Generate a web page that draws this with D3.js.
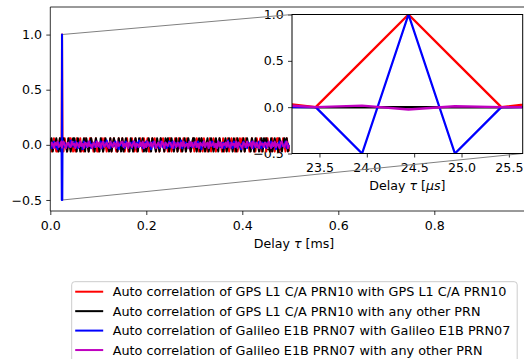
<!DOCTYPE html>
<html>
<head>
<meta charset="utf-8">
<script src="https://cdn.jsdelivr.net/npm/d3@7"></script>
<style>
  body { margin: 0; background: #fff; }
  svg { display: block; }
  text { font-family: "DejaVu Sans", sans-serif; fill: #000; }
</style>
</head>
<body>
<svg id="chart" width="524" height="359"></svg>
<script>
// ---- Correlation samples over the first half of the code period (delay in ms, step below) ----
const noiseStepMs = 0.0025;

// GPS L1 C/A PRN10 off-peak autocorrelation (three-valued)
const gpsAutoNoise = [
  0.06,-0.06,0,0.06,0,-0.06,-0.06,0,0.06,0,0,-0.06,0.06,0,-0.06,0,0.06,0.06,0,-0.06,
  0,-0.06,0.06,0,0,0.06,-0.06,0,-0.06,0.06,0,0,-0.06,0.06,0.06,0,-0.06,0,0.06,-0.06,
  -0.06,0,0,0.06,-0.06,0.06,0,-0.06,0,0,0.06,-0.06,0,0.06,0,-0.06,-0.06,0.06,0,0,
  0.06,0,-0.06,0,0.06,-0.06,0,0,0.06,0,-0.06,0.06,-0.06,0,0,0.06,0,-0.06,0.06,0,
  0,0.06,-0.06,-0.06,0,0.06,0,0.06,-0.06,0,0,-0.06,0.06,0,0.06,-0.06,0,0,-0.06,0.06,
  0.06,-0.06,0,0,0.06,0,-0.06,0.06,0,-0.06,0,0.06,0,-0.06,0.06,0,0,-0.06,0,0.06,
  -0.06,0,0.06,0,-0.06,0,0.06,-0.06,0.06,0,0,-0.06,0,0.06,-0.06,0,0.06,0,-0.06,0,
  0,0.06,0,-0.06,0.06,-0.06,0,0,0.06,-0.06,0,0.06,0,0,-0.06,0.06,-0.06,0,0.06,0,
  0.06,0,-0.06,0.06,0,0,-0.06,0,0.06,0,-0.06,-0.06,0.06,0,0,0.06,-0.06,0,0,0.06,
  -0.06,0.06,0,0,-0.06,0.06,0,-0.06,0,0.06,0.06,-0.06,0,0,0.06,0,-0.06,0.06,0,-0.06
];

// GPS L1 C/A PRN10 against other PRNs
const gpsCrossNoise = [
  0,0.06,-0.06,0,0,0.06,0,-0.06,0.06,-0.06,0,0.06,0,0,-0.06,0.06,0,-0.06,0,0.06,
  0.06,0,-0.06,0.06,0,-0.06,0,0,0.06,-0.06,0.06,0,-0.06,0,0.06,0,0,-0.06,0.06,0,
  0,-0.06,0.06,0,-0.06,0,0.06,0,0,-0.06,0.06,-0.06,0,0.06,0,0,-0.06,0.06,0,-0.06,
  0.06,-0.06,0,0.06,0,0,-0.06,0.06,0,-0.06,0,0.06,0,-0.06,0.06,0,0,0.06,-0.06,0,
  -0.06,0,0.06,0,-0.06,0.06,0,0,-0.06,0.06,0,-0.06,0.06,0,0,-0.06,0.06,0,0.06,-0.06,
  0,0.06,0,-0.06,0,0.06,-0.06,0,0.06,0,-0.06,0,0.06,-0.06,0,0.06,0,-0.06,0,0.06,
  0.06,0,-0.06,0,0.06,-0.06,0.06,0,0,-0.06,0,0.06,-0.06,0,0.06,0,-0.06,0,0.06,0,
  -0.06,0.06,0,0,-0.06,0,0.06,-0.06,0,0.06,0,0,-0.06,0.06,0,-0.06,0.06,0,0,-0.06,
  0,0.06,-0.06,0,0.06,0,0,-0.06,0.06,0,-0.06,0.06,0,0,-0.06,0,0.06,-0.06,0.06,0,
  0.06,0,0,-0.06,0.06,-0.06,0,0.06,0,0,-0.06,0.06,0,-0.06,0,0.06,0,0.06,-0.06,0
];

// Galileo E1B PRN07 off-peak autocorrelation
const galAutoNoise = [
  0.02,-0.03,0.01,0.03,-0.02,0,-0.04,0.02,0.01,-0.01,0.03,-0.02,0.02,-0.03,0,0.01,-0.02,0.04,-0.01,0.02,
  -0.02,0.03,0,-0.03,0.02,-0.01,0.01,-0.04,0.03,0,-0.02,0.02,-0.01,0.03,-0.03,0.01,0,-0.02,0.03,-0.01,
  0.01,-0.02,0.03,-0.03,0,0.02,-0.01,0.04,-0.02,0.01,-0.03,0.02,0,-0.01,0.03,-0.02,0.01,-0.04,0.02,0,
  -0.01,0.02,-0.03,0.03,0.01,-0.02,0,0.02,-0.03,0.03,-0.01,0,0.02,-0.02,0.04,-0.01,0.01,-0.03,0.02,-0.02,
  0.03,-0.01,0,0.02,-0.04,0.01,0.03,-0.02,0,-0.01,0.02,-0.03,0.03,0,-0.02,0.01,0.02,-0.03,-0.01,0.03,
  -0.02,0.01,0.03,-0.03,0.02,0,-0.01,0.02,-0.02,0.04,-0.03,0.01,0,0.02,-0.01,-0.03,0.03,0,-0.02,0.01,
  0.02,-0.02,0,0.03,-0.01,0.01,-0.04,0.02,0.03,-0.02,0,0.01,-0.03,0.02,-0.01,0.03,-0.02,0,0.01,-0.03,
  0.03,0,-0.02,0.01,0.02,-0.03,0.01,-0.01,0.04,-0.02,0.02,0,-0.03,0.03,-0.01,0.01,-0.02,0.02,0,-0.04,
  0.01,0.03,-0.02,0,-0.03,0.02,0.01,-0.01,0.03,-0.03,0,0.02,-0.02,0.01,0.03,-0.01,-0.03,0.02,0,0.02,
  -0.03,0.02,0,-0.01,0.03,-0.02,0.01,0.02,-0.04,0.01,0,0.03,-0.02,0.02,-0.01,0,0.03,-0.03,0.01,-0.02
];

// Galileo E1B PRN07 against other PRNs
const galCrossNoise = [
  -0.02,0.02,0.01,-0.03,0.02,0,0.03,-0.02,-0.01,0.02,-0.02,0.03,0,-0.03,0.01,0.02,-0.01,-0.02,0.03,0,
  0.01,-0.03,0.02,0,-0.02,0.03,-0.01,0.01,-0.03,0.02,0.01,-0.02,0.03,-0.01,0,-0.03,0.02,0.01,-0.02,0.03,
  -0.01,0.02,-0.03,0.01,0.03,-0.02,0,0.02,-0.01,-0.03,0.03,0,-0.02,0.02,0.01,-0.03,0.03,-0.01,0,0.02,
  0.03,-0.02,0.01,-0.01,0.02,-0.03,0.02,0,-0.02,0.01,0.03,-0.03,0.01,0,-0.02,0.02,-0.01,0.03,-0.03,0.01,
  -0.02,0.03,0,-0.01,0.02,-0.02,0.01,0.03,-0.03,0,0.02,-0.01,-0.02,0.03,0.01,-0.03,0.02,0,-0.01,0.02,
  0.02,-0.01,-0.03,0.03,0,-0.02,0.02,0.01,-0.03,0.02,-0.01,0.03,-0.02,0,0.01,-0.03,0.03,-0.01,0.02,-0.02,
  0,0.03,-0.02,0.01,-0.03,0.02,0,-0.01,0.03,-0.02,0.01,0.02,-0.03,0.03,-0.01,0,0.02,-0.02,0.01,-0.03,
  0.03,-0.01,0.02,-0.03,0.01,0,0.02,-0.02,0.03,-0.01,-0.03,0.02,0,0.01,-0.02,0.03,-0.03,0.02,0,-0.01,
  -0.03,0.02,0.01,-0.02,0.03,-0.01,0,0.02,-0.03,0.03,0.01,-0.02,0.02,-0.01,-0.03,0.03,0,0.01,-0.02,0.02,
  0.01,-0.02,0.03,0,-0.03,0.02,-0.01,0.03,-0.02,0.01,0,-0.03,0.02,0.03,-0.01,-0.02,0.01,0.03,-0.03,0
];

// ---- Samples around the correlation peak (delay in µs) ----
const peakTauUs    = [22.97, 23.46, 23.95, 24.44, 24.93, 25.42, 25.91];
const gpsAutoPeak  = [0.06, 0, 0.5, 1.0, 0.5, 0, 0.06];
const gpsCrossPeak = [0, -0.001, -0.001, -0.001, -0.001, -0.001, 0];
const galAutoPeak  = [0, 0, -0.5, 1.0, -0.5, 0, 0];
const galCrossPeak = [0.03, 0, 0.017, -0.025, 0.01, 0, 0];

// ---- Axis ticks ----
const mainXTicks  = [0.0, 0.2, 0.4, 0.6, 0.8];
const mainYTicks  = [-0.5, 0.0, 0.5, 1.0];
const insetXTicks = [23.5, 24.0, 24.5, 25.0, 25.5];
const insetYTicks = [-0.5, 0.0, 0.5, 1.0];

// ---- Series ----
const seriesLabels = [
  "Auto correlation of GPS L1 C/A PRN10 with GPS L1 C/A PRN10",
  "Auto correlation of GPS L1 C/A PRN10 with any other PRN",
  "Auto correlation of Galileo E1B PRN07 with Galileo E1B PRN07",
  "Auto correlation of Galileo E1B PRN07 with any other PRN"
];
const seriesColors = ["#ff0000", "#000000", "#0000ff", "#bf00bf"];
const seriesNoise  = [gpsAutoNoise, gpsCrossNoise, galAutoNoise, galCrossNoise];
const seriesPeak   = [gpsAutoPeak, gpsCrossPeak, galAutoPeak, galCrossPeak];

// Series in ms: noise samples with the peak window replaced by the peak samples
function fullSeries(noise, peak) {
  const lo = peakTauUs[0] / 1000, hi = peakTauUs[peakTauUs.length - 1] / 1000;
  const pts = noise.map((v, i) => [i * noiseStepMs, v]).filter(p => p[0] < lo || p[0] > hi);
  peak.forEach((v, i) => pts.push([peakTauUs[i] / 1000, v]));
  return pts.sort((a, b) => a[0] - b[0]);
}
const series = seriesLabels.map((label, i) => ({
  label, color: seriesColors[i],
  full: fullSeries(seriesNoise[i], seriesPeak[i]),
  zoom: peakTauUs.map((t, j) => [t, seriesPeak[i][j]])
}));

// ---- Layout ----
const W = 524, H = 359, FS = 12.6, FS_LEG = 12.8;
const svg = d3.select("#chart");
svg.append("rect").attr("width", W).attr("height", H).attr("fill", "#fff");

const M = { left: 50.3, right: 540, top: 7, bottom: 211 };
const x = d3.scaleLinear().domain([0, 1]).range([M.left, M.left + 480]);
const y = d3.scaleLinear().domain([-0.6, 1.25]).range([M.bottom, M.top]);

const I = { left: 292, right: 522.7, top: 14.5, bottom: 153.5 };
const xi = d3.scaleLinear().domain([23.21, 25.646]).range([I.left, I.right]);
const yi = d3.scaleLinear().domain([-0.5, 1.0]).range([I.bottom, I.top]);

const fmt = d3.format(".1f");

function styleAxis(g) {
  g.select(".domain").remove();
  g.selectAll(".tick line").attr("stroke", "#000").attr("stroke-width", 0.8);
  g.selectAll(".tick text").attr("font-size", FS).attr("fill", "#000")
    .attr("font-family", "DejaVu Sans, sans-serif");
}

// Main axes
svg.append("g").attr("transform", `translate(0,${M.bottom})`)
  .call(d3.axisBottom(x).tickValues(mainXTicks).tickFormat(fmt).tickSize(4).tickPadding(5.8))
  .call(styleAxis);
svg.append("g").attr("transform", `translate(${M.left},0)`)
  .call(d3.axisLeft(y).tickValues(mainYTicks).tickFormat(fmt).tickSize(4).tickPadding(4.2))
  .call(styleAxis);

const mainLabel = svg.append("text").attr("x", 294).attr("y", 247.5)
  .attr("text-anchor", "middle").attr("font-size", FS);
mainLabel.append("tspan").text("Delay ");
mainLabel.append("tspan").attr("font-style", "italic").text("τ");
mainLabel.append("tspan").text(" [ms]");

// Inset tick marks and labels sit beneath the main traces
svg.append("g").attr("transform", `translate(0,${I.bottom})`)
  .call(d3.axisBottom(xi).tickValues(insetXTicks).tickFormat(fmt).tickSize(4).tickPadding(5.4))
  .call(styleAxis);
svg.append("g").attr("transform", `translate(${I.left},0)`)
  .call(d3.axisLeft(yi).tickValues(insetYTicks).tickFormat(fmt).tickSize(4).tickPadding(4.2))
  .call(styleAxis);

const insetLabel = svg.append("text").attr("x", (I.left + I.right) / 2).attr("y", 189.5)
  .attr("text-anchor", "middle").attr("font-size", FS);
insetLabel.append("tspan").text("Delay ");
insetLabel.append("tspan").attr("font-style", "italic").text("τ");
insetLabel.append("tspan").text(" [");
insetLabel.append("tspan").attr("font-style", "italic").text("μs");
insetLabel.append("tspan").text("]");

// Zoom region marker and connectors
const [z0, z1] = xi.domain().map(v => v / 1000);
const [zy0, zy1] = yi.domain();
const conn = svg.append("g").attr("stroke", "#808080").attr("stroke-width", 1).attr("fill", "none");
conn.append("rect").attr("x", x(z0)).attr("y", y(zy1))
  .attr("width", x(z1) - x(z0)).attr("height", y(zy0) - y(zy1));
conn.append("line").attr("x1", x(z0)).attr("y1", y(zy1)).attr("x2", I.left).attr("y2", I.top);
conn.append("line").attr("x1", x(z1)).attr("y1", y(zy0)).attr("x2", I.right).attr("y2", I.bottom);

// Main traces
const defs = svg.append("defs");
defs.append("clipPath").attr("id", "clipMain").append("rect")
  .attr("x", M.left).attr("y", M.top).attr("width", M.right - M.left).attr("height", M.bottom - M.top);
defs.append("clipPath").attr("id", "clipInset").append("rect")
  .attr("x", I.left).attr("y", I.top).attr("width", I.right - I.left).attr("height", I.bottom - I.top);

const lineMain = d3.line().x(d => x(d[0])).y(d => y(d[1]));
const gMain = svg.append("g").attr("clip-path", "url(#clipMain)");
series.forEach(s => {
  gMain.append("path").attr("d", lineMain(s.full)).attr("fill", "none")
    .attr("stroke", s.color).attr("stroke-width", 2).attr("stroke-linejoin", "round");
});

// Main spines
const spine = svg.append("g").attr("stroke", "#000").attr("stroke-width", 0.8).attr("fill", "none");
spine.append("line").attr("x1", M.left).attr("x2", M.left).attr("y1", M.top).attr("y2", M.bottom);
spine.append("line").attr("x1", M.left).attr("x2", M.right).attr("y1", M.bottom).attr("y2", M.bottom);
spine.append("line").attr("x1", M.left).attr("x2", M.right).attr("y1", M.top).attr("y2", M.top);

// Inset panel
svg.append("rect").attr("x", I.left).attr("y", I.top)
  .attr("width", I.right - I.left).attr("height", I.bottom - I.top).attr("fill", "#fff");
const lineInset = d3.line().x(d => xi(d[0])).y(d => yi(d[1]));
const gInset = svg.append("g").attr("clip-path", "url(#clipInset)");
series.forEach(s => {
  gInset.append("path").attr("d", lineInset(s.zoom)).attr("fill", "none")
    .attr("stroke", s.color).attr("stroke-width", 2.3).attr("stroke-linejoin", "round");
});
svg.append("rect").attr("x", I.left).attr("y", I.top)
  .attr("width", I.right - I.left).attr("height", I.bottom - I.top)
  .attr("fill", "none").attr("stroke", "#000").attr("stroke-width", 1);

// Legend
const L = { x: 71.7, y: 281.7, w: 445.5, h: 84, row: 19.45 };
const leg = svg.append("g");
leg.append("rect").attr("x", L.x).attr("y", L.y).attr("width", L.w).attr("height", L.h)
  .attr("rx", 3).attr("fill", "#fff").attr("fill-opacity", 0.8)
  .attr("stroke", "#cccccc").attr("stroke-width", 1);
series.forEach((s, i) => {
  const cy = L.y + 10 + i * L.row;
  leg.append("line").attr("x1", L.x + 3.5).attr("x2", L.x + 31.5).attr("y1", cy).attr("y2", cy)
    .attr("stroke", s.color).attr("stroke-width", 2);
  leg.append("text").attr("x", L.x + 41).attr("y", cy).attr("dy", "0.36em")
    .attr("font-size", FS_LEG).text(s.label);
});
</script>
</body>
</html>
